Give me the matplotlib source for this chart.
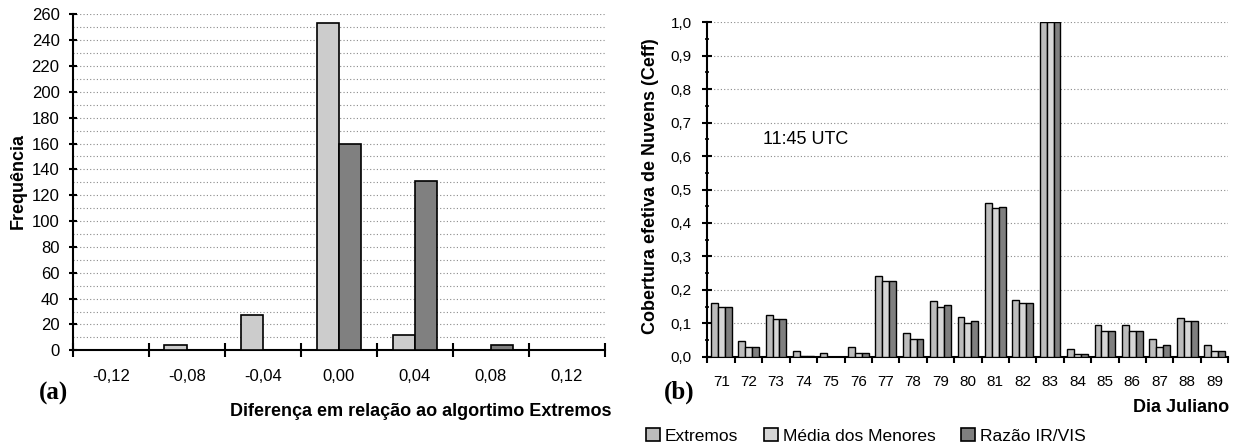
import matplotlib
matplotlib.use("Agg")
import matplotlib.pyplot as plt
from matplotlib.patches import Patch
from matplotlib.ticker import FixedLocator, NullFormatter
import numpy as np

plt.rcParams['font.family'] = ['Liberation Sans', 'DejaVu Sans']

# ---- Data (a) ----
diff_labels = ['-0,12', '-0,08', '-0,04', '0,00', '0,04', '0,08', '0,12']
freq_light = [0, 4, 27, 253, 12, 0, 0]
freq_dark = [0, 0, 0, 160, 131, 4, 0]
freq_yticks = list(range(0, 261, 20))

# ---- Data (b) ----
dias = ['71', '72', '73', '74', '75', '76', '77', '78', '79', '80',
        '81', '82', '83', '84', '85', '86', '87', '88', '89']
extremos = [0.160, 0.048, 0.125, 0.018, 0.012, 0.029, 0.242, 0.071, 0.166, 0.119,
            0.459, 0.171, 1.0, 0.024, 0.095, 0.095, 0.054, 0.117, 0.035]
media_menores = [0.148, 0.030, 0.113, 0.002, 0.0, 0.012, 0.225, 0.053, 0.148, 0.101,
                 0.446, 0.160, 1.0, 0.007, 0.077, 0.077, 0.029, 0.106, 0.018]
razao_irvis = [0.148, 0.030, 0.113, 0.002, 0.0, 0.012, 0.225, 0.053, 0.154, 0.107,
               0.447, 0.160, 1.0, 0.007, 0.077, 0.077, 0.035, 0.106, 0.018]
ceff_yticks = [round(0.1 * i, 1) for i in range(11)]
series_names = ['Extremos', 'Média dos Menores', 'Razão IR/VIS']

W, H = 1241, 446
fig = plt.figure(figsize=(W / 100, H / 100), dpi=100)

c_light = '#cccccc'
c_dark = '#808080'
c_ext = '#bcbcbc'
c_med = '#d6d6d6'
c_raz = '#7f7f7f'
grid_kw = dict(color='#8a8a8a', linestyle=(0, (1, 2)), linewidth=0.8)

# ================= (a) =================
ax1 = fig.add_axes([72.7 / W, 1 - 350.3 / H, 532.3 / W, 336 / H])
n1 = len(diff_labels)
x1 = np.arange(n1) + 0.5
bw1 = 0.293
ax1.bar(x1 - bw1 / 2, freq_light, bw1, color=c_light, edgecolor='black', linewidth=1.2, zorder=3)
ax1.bar(x1 + bw1 / 2, freq_dark, bw1, color=c_dark, edgecolor='black', linewidth=1.2, zorder=3)
ax1.set_xlim(0, n1)
ax1.set_ylim(0, 260)
ax1.set_xticks(np.arange(n1 + 1))
ax1.xaxis.set_major_formatter(NullFormatter())
ax1.set_xticks(x1, minor=True)
ax1.set_xticklabels(diff_labels, minor=True)
ax1.tick_params(axis='x', which='major', direction='inout', length=9.4, width=1.5)
ax1.tick_params(axis='x', which='minor', length=0, pad=13.5, labelsize=12)
ax1.set_yticks(freq_yticks)
ax1.set_yticklabels([str(v) for v in freq_yticks])
ax1.yaxis.set_minor_locator(FixedLocator(list(range(10, 261, 20))))
ax1.tick_params(axis='y', which='major', direction='inout', length=6, width=1.5, pad=6.5, labelsize=12)
ax1.tick_params(axis='y', which='minor', length=0)
ax1.grid(True, axis='y', which='both', **grid_kw)
ax1.set_axisbelow(True)
for s in ['top', 'right']:
    ax1.spines[s].set_visible(False)
for s in ['left', 'bottom']:
    ax1.spines[s].set_linewidth(1.5)

fig.text(18 / W, 1 - 181 / H, 'Frequência', rotation=90, ha='center', va='center',
         fontsize=13, fontweight='bold')
fig.text(611.7 / W, 1 - 411 / H, 'Diferença em relação ao algortimo Extremos',
         ha='right', va='center', fontsize=13, fontweight='bold')
fig.text(54 / W, 1 - 393 / H, '(a)', ha='center', va='center', fontsize=18,
         fontweight='bold', family='Liberation Serif')

# ================= (b) =================
ax2 = fig.add_axes([707.5 / W, 1 - 356.7 / H, 520.8 / W, 334.4 / H])
n2 = len(dias)
x2 = np.arange(n2) + 0.5
bw2 = 0.252
for off, vals, col in [(-bw2, extremos, c_ext), (0, media_menores, c_med), (bw2, razao_irvis, c_raz)]:
    ax2.bar(x2 + off, vals, bw2, color=col, edgecolor='black', linewidth=1.0, zorder=3)
ax2.set_xlim(0, n2)
ax2.set_ylim(0, 1.0)
ax2.set_xticks(np.arange(n2 + 1))
ax2.xaxis.set_major_formatter(NullFormatter())
ax2.set_xticks(x2, minor=True)
ax2.set_xticklabels(dias, minor=True)
ax2.tick_params(axis='x', which='major', direction='out', length=4.5, width=1.5)
ax2.tick_params(axis='x', which='minor', length=0, pad=13.2, labelsize=11)
ax2.set_yticks(ceff_yticks)
ax2.set_yticklabels([f'{v:.1f}'.replace('.', ',') for v in ceff_yticks])
ax2.yaxis.set_minor_locator(FixedLocator([0.05 + 0.1 * i for i in range(10)]))
ax2.tick_params(axis='y', which='major', direction='inout', length=7, width=1.5, pad=8, labelsize=11)
ax2.tick_params(axis='y', which='minor', direction='inout', length=3.5, width=1.2)
ax2.grid(True, axis='y', which='major', **grid_kw)
ax2.set_axisbelow(True)
for s in ['top', 'right']:
    ax2.spines[s].set_visible(False)
for s in ['left', 'bottom']:
    ax2.spines[s].set_linewidth(1.5)

fig.text(650.5 / W, 1 - 186 / H, 'Cobertura efetiva de Nuvens (Ceff)', rotation=90,
         ha='center', va='center', fontsize=13, fontweight='bold')
fig.text(1229.3 / W, 1 - 407 / H, 'Dia Juliano', ha='right', va='center',
         fontsize=13, fontweight='bold')
fig.text(679 / W, 1 - 392 / H, '(b)', ha='center', va='center', fontsize=18,
         fontweight='bold', family='Liberation Serif')
ax2.text(762.7 / W, 1 - 140 / H, '11:45 UTC', transform=fig.transFigure,
         ha='left', va='center', fontsize=13)

handles = [Patch(facecolor=c, edgecolor='black', linewidth=1.2) for c in (c_ext, c_med, c_raz)]
fig.legend(handles, series_names, loc='center left', bbox_to_anchor=(646 / W, 1 - 436 / H),
           ncol=3, frameon=False, fontsize=12.5, handlelength=0.8, handleheight=0.7,
           handletextpad=0.3, columnspacing=1.45, borderpad=0, borderaxespad=0)

fig.savefig('out.png', dpi=100)
